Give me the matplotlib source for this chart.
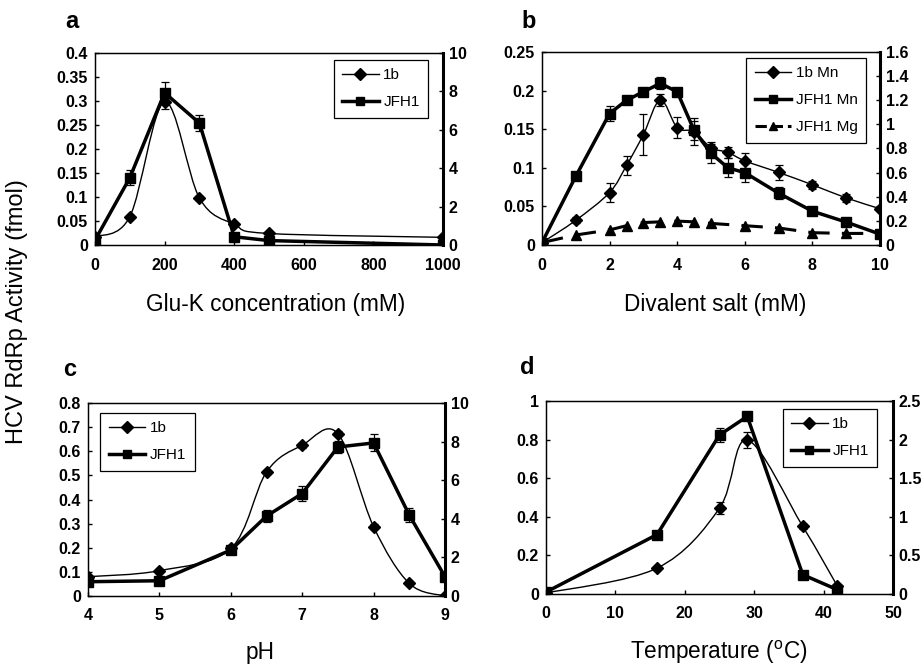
import numpy as np
import matplotlib
matplotlib.use("Agg")
import matplotlib.pyplot as plt
from matplotlib.path import Path
from matplotlib.patches import PathPatch
from matplotlib.lines import Line2D

plt.rcParams['font.family'] = ['Liberation Sans', 'DejaVu Sans']

# ---- panel a : Glu-K concentration ----
a_x = [0, 100, 200, 300, 400, 500, 1000]
a_1b = [0.017, 0.059, 0.298, 0.098, 0.043, 0.024, 0.016]            # left axis
a_1b_err = [0.003, 0.004, 0.015, 0.004, 0.004, 0.003, 0.002]
a_jfh1 = [0.25, 3.5, 7.93, 6.35, 0.43, 0.23, 0.0]                    # right axis
a_jfh1_err = [0.05, 0.4, 0.55, 0.4, 0.1, 0.05, 0.05]

# ---- panel b : divalent salt ----
b_x = [0, 1, 2, 2.5, 3, 3.5, 4, 4.5, 5, 5.5, 6, 7, 8, 9, 10]
b_1b_mn = [0.003, 0.032, 0.068, 0.103, 0.143, 0.188, 0.152, 0.147, 0.126,
           0.120, 0.109, 0.094, 0.078, 0.061, 0.047]                  # left axis
b_1b_mn_err = [0.002, 0.004, 0.012, 0.012, 0.027, 0.008, 0.014, 0.018,
               0.008, 0.007, 0.010, 0.010, 0.005, 0.005, 0.003]
b_jfh1_mn = [0.02, 0.57, 1.09, 1.20, 1.27, 1.34, 1.27, 0.95, 0.76,
             0.64, 0.60, 0.43, 0.28, 0.19, 0.09]                      # right axis
b_jfh1_mn_err = [0.01, 0.03, 0.06, 0.03, 0.02, 0.05, 0.03, 0.08, 0.08,
                 0.08, 0.08, 0.05, 0.02, 0.02, 0.02]
b_mg_x = [0, 1, 2, 2.5, 3, 3.5, 4, 4.5, 5, 6, 7, 8, 9, 10]
b_jfh1_mg = [0.02, 0.083, 0.125, 0.16, 0.186, 0.192, 0.198, 0.192, 0.179,
             0.16, 0.141, 0.102, 0.096, 0.096]                        # right axis

# ---- panel c : pH ----
c_x = [4, 5, 6, 6.5, 7, 7.5, 8, 8.5, 9]
c_1b = [0.08, 0.105, 0.197, 0.514, 0.625, 0.673, 0.287, 0.052, 0.0]  # left axis
c_1b_err = [0.005, 0.005, 0.008, 0.01, 0.01, 0.01, 0.01, 0.008, 0.003]
c_jfh1 = [0.74, 0.79, 2.38, 4.14, 5.31, 7.72, 7.93, 4.19, 1.0]       # right axis
c_jfh1_err = [0.06, 0.06, 0.1, 0.3, 0.38, 0.3, 0.44, 0.38, 0.1]

# ---- panel d : temperature ----
d_x = [0, 16, 25, 29, 37, 42]
d_1b = [0.005, 0.134, 0.445, 0.798, 0.35, 0.04]                      # left axis
d_1b_err = [0.003, 0.01, 0.03, 0.04, 0.015, 0.01]
d_jfh1 = [0.025, 0.77, 2.06, 2.30, 0.25, 0.055]                      # right axis
d_jfh1_err = [0.01, 0.03, 0.09, 0.05, 0.02, 0.01]


def smooth_line(ax, x, y, lw=1.0):
    # excel style smoothed line: catmull-rom as cubic bezier segments
    n = len(x)
    verts = [(x[0], y[0])]
    codes = [Path.MOVETO]
    for i in range(n - 1):
        x0, y0 = (x[i - 1], y[i - 1]) if i > 0 else (x[i], y[i])
        x3, y3 = (x[i + 2], y[i + 2]) if i + 2 < n else (x[i + 1], y[i + 1])
        c1 = (x[i] + (x[i + 1] - x0) / 6, y[i] + (y[i + 1] - y0) / 6)
        c2 = (x[i + 1] - (x3 - x[i]) / 6, y[i + 1] - (y3 - y[i]) / 6)
        verts += [c1, c2, (x[i + 1], y[i + 1])]
        codes += [Path.CURVE4] * 3
    ax.add_patch(PathPatch(Path(verts, codes), fill=False, lw=lw, color='k', zorder=3))


def setup(rect, xlim, xticks, yl, yl_ticks, yr, yr_ticks):
    ax = fig.add_axes(rect)
    ax2 = ax.twinx()
    ax.set_xlim(*xlim)
    ax.set_ylim(*yl)
    ax2.set_ylim(*yr)
    ax.set_xticks(xticks)
    ax.set_xticklabels(['%g' % t for t in xticks])
    ax.set_yticks(yl_ticks)
    ax.set_yticklabels(['%g' % t for t in yl_ticks])
    ax2.set_yticks(yr_ticks)
    ax2.set_yticklabels(['%g' % t for t in yr_ticks])
    for a in (ax, ax2):
        a.tick_params(direction='in', length=3, width=1, labelsize=11.5, pad=5)
        for t in a.get_xticklabels() + a.get_yticklabels():
            t.set_fontweight('bold')
        for s in a.spines.values():
            s.set_linewidth(0.9)
    ax.tick_params(axis='x', pad=9)
    ax2.tick_params(axis='y', pad=4)
    ax2.spines['right'].set_linewidth(2.2)
    ax.patch.set_visible(False)
    ax.set_zorder(ax2.get_zorder() + 1)
    return ax, ax2


def legend(ax, entries, loc, bbox):
    handles = []
    for lab, m, lw, ls in entries:
        handles.append(Line2D([], [], color='k', marker=m, markersize=6, lw=lw, ls=ls, label=lab))
    lg = ax.legend(handles=handles, loc=loc, bbox_to_anchor=bbox, fancybox=False,
                   edgecolor='k', framealpha=1, handlelength=2.4, fontsize=11,
                   borderpad=0.55, labelspacing=0.85, handletextpad=0.3,
                   borderaxespad=0)
    lg.get_frame().set_linewidth(0.9)
    lg.set_zorder(10)


fig = plt.figure(figsize=(9.24, 6.65), dpi=100)
W, H = 924, 665


def rect(l, r, t, b):
    return [l / W, 1 - b / H, (r - l) / W, (b - t) / H]


eb = dict(capsize=3, elinewidth=0.9, capthick=0.9, ecolor='k', color='k', zorder=4)

# panel a
ax, ax2 = setup(rect(95, 443, 53, 245), (0, 1000), np.arange(0, 1001, 200),
                (0, 0.4), np.round(np.arange(0, 0.401, 0.05), 2),
                (0, 10), np.arange(0, 11, 2))
smooth_line(ax, a_x, a_1b)
ax.errorbar(a_x, a_1b, yerr=a_1b_err, fmt='D', ms=6, **eb)
ax2.errorbar(a_x, a_jfh1, yerr=a_jfh1_err, fmt='s-', ms=6.5, lw=2.5, **eb)
legend(ax, [('1b', 'D', 1, '-'), ('JFH1', 's', 2.5, '-')], 'upper right', (0.957, 0.964))

# panel b
ax, ax2 = setup(rect(542, 880, 52, 245), (0, 10), np.arange(0, 11, 2),
                (0, 0.25), np.round(np.arange(0, 0.251, 0.05), 2),
                (0, 1.6), np.round(np.arange(0, 1.61, 0.2), 1))
smooth_line(ax, b_x, b_1b_mn)
ax.errorbar(b_x, b_1b_mn, yerr=b_1b_mn_err, fmt='D', ms=6, **eb)
ax2.errorbar(b_x, b_jfh1_mn, yerr=b_jfh1_mn_err, fmt='s-', ms=6.5, lw=2.5, **eb)
ax2.plot(b_mg_x, b_jfh1_mg, color='k', marker='^', ms=7, lw=2.2, dashes=(7, 4), zorder=4)
legend(ax, [('1b Mn', 'D', 1, '-'), ('JFH1 Mn', 's', 2.5, '-'), ('JFH1 Mg', '^', 2.2, '--')],
       'upper right', (0.959, 0.969))

# panel c
ax, ax2 = setup(rect(88, 445, 403, 596), (4, 9), np.arange(4, 10, 1),
                (0, 0.8), np.round(np.arange(0, 0.81, 0.1), 1),
                (0, 10), np.arange(0, 11, 2))
smooth_line(ax, c_x, c_1b)
ax.errorbar(c_x, c_1b, yerr=c_1b_err, fmt='D', ms=6, **eb)
ax2.errorbar(c_x, c_jfh1, yerr=c_jfh1_err, fmt='s-', ms=6.5, lw=2.5, **eb)
legend(ax, [('1b', 'D', 1, '-'), ('JFH1', 's', 2.5, '-')], 'upper left', (0.034, 0.948))

# panel d
ax, ax2 = setup(rect(546, 893, 401, 594), (0, 50), np.arange(0, 51, 10),
                (0, 1), np.round(np.arange(0, 1.01, 0.2), 1),
                (0, 2.5), np.round(np.arange(0, 2.51, 0.5), 1))
smooth_line(ax, d_x, d_1b)
ax.errorbar(d_x, d_1b, yerr=d_1b_err, fmt='D', ms=6, **eb)
ax2.errorbar(d_x, d_jfh1, yerr=d_jfh1_err, fmt='s-', ms=6.5, lw=2.5, **eb)
legend(ax, [('1b', 'D', 1, '-'), ('JFH1', 's', 2.5, '-')], 'upper right', (0.954, 0.959))

# labels
lab = dict(fontsize=16.3)
fig.text(276 / W, 1 - 305 / H, 'Glu-K concentration (mM)', ha='center', va='center', **lab)
fig.text(715 / W, 1 - 305 / H, 'Divalent salt (mM)', ha='center', va='center', **lab)
fig.text(260 / W, 1 - 652 / H, 'pH', ha='center', va='center', **lab)
fig.text(719 / W, 1 - 652 / H, r'Temperature ($^{\mathregular{o}}$C)', ha='center', va='center', **lab)
fig.text(17 / W, 1 - 312 / H, 'HCV RdRp Activity (fmol)', rotation=90, ha='center', va='center',
         fontsize=17)

pl = dict(fontsize=17, fontweight='bold')
fig.text(72 / W, 1 - 21 / H, 'a', ha='center', va='center', **pl)
fig.text(529 / W, 1 - 21 / H, 'b', ha='center', va='center', **pl)
fig.text(70 / W, 1 - 370 / H, 'c', ha='center', va='center', **pl)
fig.text(527 / W, 1 - 368 / H, 'd', ha='center', va='center', **pl)

fig.savefig('out.png', dpi=100)
